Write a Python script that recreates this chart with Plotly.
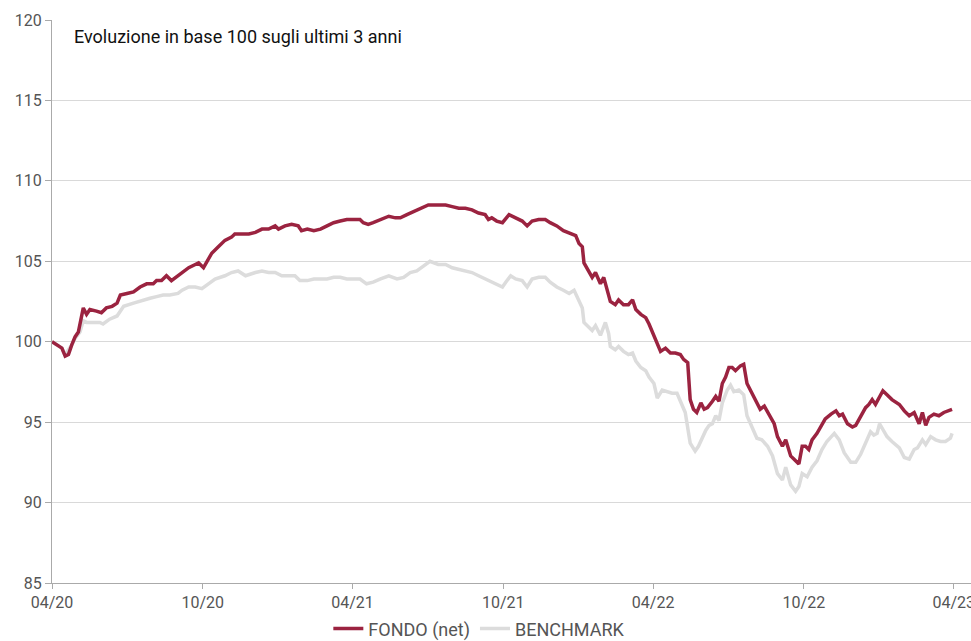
import pandas as pd
import plotly.graph_objects as go

START = "2020-04-01"

# FONDO (net): days since start, value
fondo_days = [0, 6, 12, 16, 20, 24, 28, 32, 36, 38, 42, 46, 54, 60, 66, 73, 79, 83, 91, 99,
              107, 115, 123, 127, 133, 139, 145, 153, 158, 166, 174, 178, 184, 188, 194, 202, 210, 218, 222, 231,
              239, 247, 255, 263, 271, 275, 283, 291, 299, 303, 310, 318, 326, 334, 342, 350, 358, 366, 374, 378,
              384, 390, 399, 409, 417, 423, 431, 439, 447, 457, 469, 478, 486, 494, 502, 510, 518, 526, 530, 534,
              540, 547, 555, 563, 571, 577, 583, 591, 599, 605, 613, 621, 630, 636, 640, 644, 646, 650, 656, 660,
              664, 666, 670, 674, 678, 684, 688, 694, 700, 705, 709, 715, 721, 725, 731, 735, 739, 745, 751, 757,
              763, 767, 772, 775, 779, 783, 788, 792, 796, 802, 806, 810, 814, 818, 822, 826, 830, 836, 840, 844,
              848, 854, 860, 865, 871, 877, 881, 887, 891, 897, 903, 907, 911, 915, 919, 923, 929, 935, 939, 946,
              952, 956, 960, 966, 972, 976, 982, 988, 992, 996, 1000, 1004, 1009, 1014, 1020, 1029, 1035, 1041, 1047, 1053,
              1057, 1061, 1065, 1071, 1077, 1083, 1089, 1093]
fondo_vals = [100.0, 99.8, 99.6, 99.1, 99.2, 99.8, 100.3, 100.6, 101.7, 102.1, 101.7, 102.0, 101.9, 101.8, 102.1, 102.2, 102.4, 102.9, 103.0, 103.1,
              103.4, 103.6, 103.6, 103.8, 103.8, 104.1, 103.8, 104.1, 104.3, 104.6, 104.8, 104.9, 104.6, 105.0, 105.5, 105.9, 106.3, 106.5, 106.7, 106.7,
              106.7, 106.8, 107.0, 107.0, 107.2, 107.0, 107.2, 107.3, 107.2, 106.9, 107.0, 106.9, 107.0, 107.2, 107.4, 107.5, 107.6, 107.6, 107.6, 107.4,
              107.3, 107.4, 107.6, 107.8, 107.7, 107.7, 107.9, 108.1, 108.3, 108.5, 108.5, 108.5, 108.4, 108.3, 108.3, 108.2, 108.0, 107.9, 107.6, 107.7,
              107.5, 107.4, 107.9, 107.7, 107.5, 107.2, 107.5, 107.6, 107.6, 107.4, 107.2, 106.9, 106.7, 106.6, 106.1, 105.9, 104.9, 104.5, 104.0, 104.3,
              103.9, 103.6, 104.0, 103.2, 102.5, 102.3, 102.6, 102.3, 102.3, 102.6, 102.0, 101.7, 101.5, 101.1, 100.4, 100.0, 99.4, 99.6, 99.3, 99.3,
              99.2, 98.9, 98.7, 96.4, 95.8, 95.6, 96.2, 95.8, 95.9, 96.3, 96.6, 96.3, 97.4, 97.8, 98.4, 98.4, 98.2, 98.5, 98.6, 97.4,
              97.0, 96.3, 95.8, 96.0, 95.5, 94.9, 94.1, 93.5, 93.9, 92.9, 92.6, 92.4, 93.5, 93.5, 93.3, 93.9, 94.3, 94.9, 95.2, 95.5,
              95.7, 95.4, 95.5, 94.9, 94.7, 94.8, 95.3, 95.9, 96.1, 96.4, 96.1, 96.5, 96.95, 96.7, 96.4, 96.1, 95.7, 95.4, 95.6, 94.9,
              95.6, 94.8, 95.3, 95.5, 95.4, 95.6, 95.7, 95.8]

# BENCHMARK: days since start, value
bench_days = [0, 6, 12, 16, 24, 28, 34, 38, 42, 50, 58, 62, 70, 79, 87, 99, 111, 119, 127, 135,
              143, 153, 158, 166, 174, 182, 190, 198, 210, 218, 226, 235, 247, 255, 263, 271, 279, 287, 295, 301,
              310, 318, 326, 334, 342, 350, 358, 366, 374, 382, 390, 399, 409, 419, 427, 435, 443, 451, 459, 469,
              478, 486, 494, 502, 510, 518, 526, 534, 540, 547, 551, 557, 563, 571, 577, 583, 591, 599, 605, 613,
              621, 628, 634, 640, 644, 646, 652, 656, 660, 666, 672, 676, 678, 684, 688, 694, 700, 705, 709, 715,
              721, 725, 731, 735, 741, 747, 753, 759, 765, 769, 775, 781, 785, 790, 794, 798, 802, 806, 810, 814,
              820, 824, 828, 834, 840, 844, 850, 856, 862, 869, 875, 881, 887, 891, 897, 903, 907, 911, 917, 923,
              929, 935, 941, 950, 956, 962, 970, 976, 982, 988, 994, 998, 1002, 1005, 1008, 1014, 1020, 1029, 1035, 1041,
              1047, 1051, 1057, 1061, 1067, 1073, 1079, 1085, 1091, 1093]
bench_vals = [100.0, 99.8, 99.6, 99.2, 99.8, 100.2, 100.6, 101.3, 101.2, 101.2, 101.2, 101.1, 101.4, 101.6, 102.2, 102.4, 102.6, 102.7, 102.8, 102.9,
              102.9, 103.0, 103.2, 103.4, 103.4, 103.3, 103.6, 103.9, 104.1, 104.3, 104.4, 104.1, 104.3, 104.4, 104.3, 104.3, 104.1, 104.1, 104.1, 103.8,
              103.8, 103.9, 103.9, 103.9, 104.0, 104.0, 103.9, 103.9, 103.9, 103.6, 103.7, 103.9, 104.1, 103.9, 104.0, 104.3, 104.4, 104.7, 105.0, 104.8,
              104.8, 104.6, 104.5, 104.4, 104.3, 104.1, 103.9, 103.7, 103.6, 103.4, 103.7, 104.1, 103.9, 103.8, 103.4, 103.9, 104.0, 104.0, 103.7, 103.4,
              103.2, 103.0, 103.2, 102.6, 102.1, 101.2, 100.9, 100.7, 101.0, 100.4, 101.2, 100.5, 99.7, 99.5, 99.7, 99.4, 99.2, 99.3, 98.8, 98.4,
              98.2, 97.8, 97.4, 96.5, 97.0, 96.9, 96.8, 96.8, 96.1, 95.6, 93.7, 93.2, 93.5, 94.1, 94.5, 94.8, 94.9, 95.4, 95.1, 96.2,
              97.0, 97.3, 96.9, 97.0, 96.7, 95.4, 94.7, 94.0, 93.9, 93.5, 92.9, 91.8, 91.4, 92.2, 91.1, 90.7, 91.0, 91.8, 91.6, 92.2,
              92.6, 93.3, 93.8, 94.3, 93.9, 93.1, 92.5, 92.5, 93.0, 93.7, 94.4, 94.2, 94.3, 94.9, 94.6, 94.1, 93.8, 93.4, 92.8, 92.7,
              93.3, 93.4, 93.9, 93.6, 94.1, 93.9, 93.8, 93.8, 94.0, 94.3]

x_ticks = ["2020-04-01", "2020-10-01", "2021-04-01", "2021-10-01", "2022-04-01", "2022-10-01", "2023-04-01"]
y_ticks = [85, 90, 95, 100, 105, 110, 115, 120]
title_text = "Evoluzione in base 100 sugli ultimi 3 anni"

t0 = pd.Timestamp(START)
fondo_x = t0 + pd.to_timedelta(fondo_days, unit="D")
bench_x = t0 + pd.to_timedelta(bench_days, unit="D")

FONT = "Roboto, sans-serif"

fig = go.Figure()
fig.add_trace(go.Scatter(x=bench_x, y=bench_vals, mode="lines", name="BENCHMARK",
                         line=dict(color="#dcdcdc", width=3.5), legendrank=2))
fig.add_trace(go.Scatter(x=fondo_x, y=fondo_vals, mode="lines", name="FONDO (net)",
                         line=dict(color="#9b2340", width=3.5), legendrank=1))

fig.update_layout(
    width=971, height=641,
    margin=dict(l=52, r=0, t=20, b=58),
    paper_bgcolor="white", plot_bgcolor="white",
    font=dict(family=FONT, size=16, color="#555555"),
    showlegend=True,
    legend=dict(orientation="h", x=0.465, xanchor="center",
                yref="container", y=0.019, yanchor="middle",
                font=dict(family=FONT, size=18, color="#555555"), traceorder="normal",
                itemwidth=30),
    xaxis=dict(type="date", range=["2020-04-01", "2023-04-22"],
               tickvals=x_ticks, tickformat="%m/%y",
               showgrid=False, zeroline=False, automargin=False, ticklabeloverflow="allow",
               showline=True, linecolor="#aaaaaa", linewidth=1,
               ticks="outside", ticklen=5, tickcolor="#aaaaaa"),
    yaxis=dict(range=[85, 120], tickvals=y_ticks, automargin=False, ticklabeloverflow="allow",
               showgrid=True, gridcolor="#d9d9d9", gridwidth=1, zeroline=False,
               showline=True, linecolor="#aaaaaa", linewidth=1,
               ticks="outside", ticklen=6, tickcolor="#aaaaaa"),
    annotations=[dict(text=title_text, xref="paper", yref="paper", x=0.0218, y=0.970,
                      xanchor="left", yanchor="middle", showarrow=False,
                      font=dict(family="Roboto, sans-serif", size=18, color="#111111"))],
)

fig.write_html("out.html", config={"displayModeBar": False},
               post_script="document.body.style.margin='0';document.body.style.overflow='hidden';")
